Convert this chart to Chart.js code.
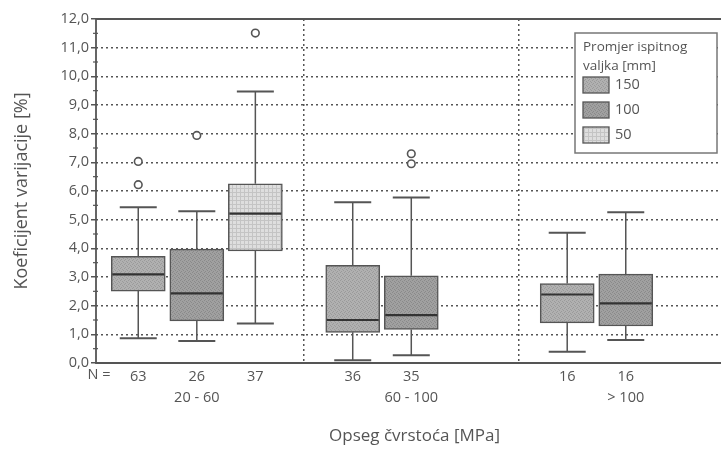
<!DOCTYPE html>
<html>
<head>
<meta charset="utf-8">
<script src="https://cdn.jsdelivr.net/npm/chart.js@4.4.1/dist/chart.umd.min.js"></script>
<style>
  html, body { margin: 0; padding: 0; background: #fff; overflow: hidden; }
  #wrap { width: 740px; height: 450px; }
</style>
</head>
<body>
<div id="wrap"><canvas id="box" width="740" height="450"></canvas></div>
<script>
// categories
var sizes = ['150', '100', '50'];
var groups = ['20 - 60', '60 - 100', '> 100'];
// one entry per box: group index, size index, N
var boxGroup = [0, 0, 0, 1, 1, 2, 2];
var boxSize = [0, 1, 2, 0, 1, 0, 1];
var counts = [63, 26, 37, 36, 35, 16, 16];
// box statistics (%)
var whiskerLow = [0.86, 0.77, 1.38, 0.10, 0.27, 0.39, 0.80];
var q1 = [2.51, 1.47, 3.91, 1.07, 1.17, 1.40, 1.29];
var median = [3.09, 2.43, 5.21, 1.50, 1.67, 2.39, 2.08];
var q3 = [3.72, 3.97, 6.25, 3.41, 3.04, 2.77, 3.10];
var whiskerHigh = [5.43, 5.29, 9.47, 5.61, 5.77, 4.54, 5.26];
var outliers = [[7.03, 6.22], [7.94], [11.51], [], [7.30, 6.95], [], []];
var yTicks = [0, 1, 2, 3, 4, 5, 6, 7, 8, 9, 10, 11, 12];

var textColor = '#555';
var lineColor = '#555';
var fontFamily = '"Open Sans", "Noto Sans", sans-serif';

// x position of each box: group centre plus offset by size
var boxX = boxGroup.map(function (g, i) { return g + 1 + (boxSize[i] - 1) * 0.273; });

function makePattern(base, dot, grid) {
    var c = document.createElement('canvas');
    c.width = 4; c.height = 4;
    var g = c.getContext('2d');
    g.fillStyle = base;
    g.fillRect(0, 0, 4, 4);
    g.fillStyle = dot;
    if (grid) {
        g.fillRect(0, 0, 4, 1);
        g.fillRect(0, 0, 1, 4);
    } else {
        g.fillRect(0, 0, 1, 1);
        g.fillRect(2, 1, 1, 1);
        g.fillRect(1, 3, 1, 1);
        g.fillRect(3, 2, 1, 1);
    }
    return g.createPattern(c, 'repeat');
}

var fills = [
    makePattern('#b0b0b0', '#9a9a9a', false),
    makePattern('#a0a0a0', '#8a8a8a', false),
    makePattern('#dedede', '#c4c4c4', true)
];

var datasets = sizes.map(function (s, k) {
    var pts = [];
    boxX.forEach(function (x, i) {
        if (boxSize[i] === k) pts.push({ x: x, y: [q1[i], q3[i]] });
    });
    return {
        type: 'bar',
        label: s,
        data: pts,
        backgroundColor: fills[k],
        borderColor: lineColor,
        borderWidth: 1.5,
        borderSkipped: false,
        barThickness: 54,
        grouped: false
    };
});

var outPts = [];
boxX.forEach(function (x, i) {
    outliers[i].forEach(function (v) { outPts.push({ x: x, y: v }); });
});
datasets.push({
    type: 'scatter',
    label: 'outliers',
    data: outPts,
    pointStyle: 'circle',
    pointRadius: 3.8,
    pointBorderWidth: 1.6,
    pointBorderColor: lineColor,
    pointBackgroundColor: '#fff'
});

var boxPlugin = {
    id: 'boxParts',
    beforeDatasetsDraw: function (chart) {
        var ctx = chart.ctx, xs = chart.scales.x, ys = chart.scales.y;
        var a = chart.chartArea;
        ctx.save();
        ctx.strokeStyle = lineColor;
        boxX.forEach(function (x, i) {
            var px = xs.getPixelForValue(x);
            ctx.lineWidth = 1.5;
            ctx.beginPath();
            ctx.moveTo(px, ys.getPixelForValue(whiskerHigh[i]));
            ctx.lineTo(px, ys.getPixelForValue(q3[i]));
            ctx.moveTo(px, ys.getPixelForValue(q1[i]));
            ctx.lineTo(px, ys.getPixelForValue(whiskerLow[i]));
            ctx.stroke();
            ctx.lineWidth = 2;
            [whiskerHigh[i], whiskerLow[i]].forEach(function (v) {
                var py = ys.getPixelForValue(v);
                ctx.beginPath();
                ctx.moveTo(px - 18.5, py);
                ctx.lineTo(px + 18.5, py);
                ctx.stroke();
            });
        });
        // solid frame: top, left, bottom
        ctx.lineWidth = 1.8;
        ctx.beginPath();
        ctx.moveTo(a.right, a.top);
        ctx.lineTo(a.left, a.top);
        ctx.lineTo(a.left, a.bottom);
        ctx.lineTo(a.right, a.bottom);
        ctx.stroke();
        // minor ticks on the y axis
        ctx.lineWidth = 1.2;
        for (var v = 0.5; v < 12; v += 1) {
            var py = ys.getPixelForValue(v);
            ctx.beginPath();
            ctx.moveTo(a.left - 3, py);
            ctx.lineTo(a.left + 2, py);
            ctx.stroke();
        }
        ctx.restore();
    },
    afterDatasetsDraw: function (chart) {
        var ctx = chart.ctx, xs = chart.scales.x, ys = chart.scales.y;
        var a = chart.chartArea;
        ctx.save();
        // medians
        ctx.strokeStyle = '#333';
        ctx.lineWidth = 2.2;
        boxX.forEach(function (x, i) {
            var px = xs.getPixelForValue(x);
            var py = ys.getPixelForValue(median[i]);
            ctx.beginPath();
            ctx.moveTo(px - 26, py);
            ctx.lineTo(px + 26, py);
            ctx.stroke();
        });
        // "N =" label
        ctx.fillStyle = textColor;
        ctx.font = '14.5px ' + fontFamily;
        ctx.textAlign = 'center';
        ctx.textBaseline = 'middle';
        ctx.fillText('N =', 99, a.bottom + 12);
        // legend
        var lx = 575, ly = 33, lw = 142, lh = 120;
        ctx.fillStyle = '#fff';
        ctx.fillRect(lx, ly, lw, lh);
        ctx.strokeStyle = '#777';
        ctx.lineWidth = 1.5;
        ctx.strokeRect(lx, ly, lw, lh);
        ctx.fillStyle = textColor;
        ctx.textAlign = 'left';
        ctx.font = '13.5px ' + fontFamily;
        ctx.fillText('Promjer ispitnog', lx + 8, ly + 14);
        ctx.fillText('valjka [mm]', lx + 8, ly + 33);
        ctx.font = '14.5px ' + fontFamily;
        sizes.forEach(function (s, k) {
            var sy = ly + 44 + k * 25;
            ctx.fillStyle = fills[k];
            ctx.fillRect(lx + 8, sy, 26, 16);
            ctx.strokeStyle = lineColor;
            ctx.lineWidth = 1.3;
            ctx.strokeRect(lx + 8, sy, 26, 16);
            ctx.fillStyle = textColor;
            ctx.fillText(s, lx + 40, sy + 8);
        });
        ctx.restore();
    }
};

new Chart(document.getElementById('box').getContext('2d'), {
    data: { datasets: datasets },
    plugins: [boxPlugin],
    options: {
        responsive: false,
        animation: false,
        layout: { padding: { left: 0, right: 7, top: 19, bottom: 0 } },
        plugins: {
            legend: { display: false },
            tooltip: { enabled: false }
        },
        scales: {
            x: {
                type: 'linear',
                min: 0.53,
                max: 3.5,
                offset: false,
                afterBuildTicks: function (s) {
                    s.ticks = boxX.map(function (v) { return { value: v }; });
                },
                afterFit: function (s) { s.height = 87; },
                grid: { display: false, drawTicks: false },
                border: { display: false },
                ticks: {
                    autoSkip: false,
                    maxRotation: 0,
                    padding: 3,
                    color: textColor,
                    font: { family: fontFamily, size: 14.5, lineHeight: 1.45 },
                    callback: function (v, i) {
                        var n = String(counts[i]);
                        if (boxSize[i] === 1) return [n, groups[boxGroup[i]]];
                        return n;
                    }
                },
                title: {
                    display: true,
                    text: 'Opseg čvrstoća [MPa]',
                    color: textColor,
                    font: { family: fontFamily, size: 17 },
                    padding: { top: 0, bottom: 4 }
                }
            },
            xd: {
                type: 'linear',
                position: 'bottom',
                min: 0.53,
                max: 3.5,
                offset: false,
                afterBuildTicks: function (s) {
                    s.ticks = [{ value: 1.5 }, { value: 2.5 }];
                },
                afterFit: function (s) { s.height = 0; },
                ticks: { display: false },
                border: { display: false, dash: [2, 3] },
                grid: { color: lineColor, lineWidth: 1.5, drawTicks: false }
            },
            y: {
                min: 0,
                max: 12,
                afterBuildTicks: function (s) {
                    s.ticks = yTicks.map(function (v) { return { value: v }; });
                },
                afterFit: function (s) { s.width = 96; },
                border: { display: false, dash: [2, 3] },
                grid: {
                    color: lineColor,
                    lineWidth: 1.5,
                    tickBorderDash: [],
                    tickLength: 5,
                    tickColor: lineColor
                },
                ticks: {
                    padding: 2,
                    color: textColor,
                    font: { family: fontFamily, size: 14.5 },
                    callback: function (v) { return v.toFixed(1).replace('.', ','); }
                },
                title: {
                    display: true,
                    text: 'Koeficijent varijacije [%]',
                    color: textColor,
                    font: { family: fontFamily, size: 18 },
                    padding: { top: 11, bottom: 0 }
                }
            }
        }
    }
});
</script>
</body>
</html>
